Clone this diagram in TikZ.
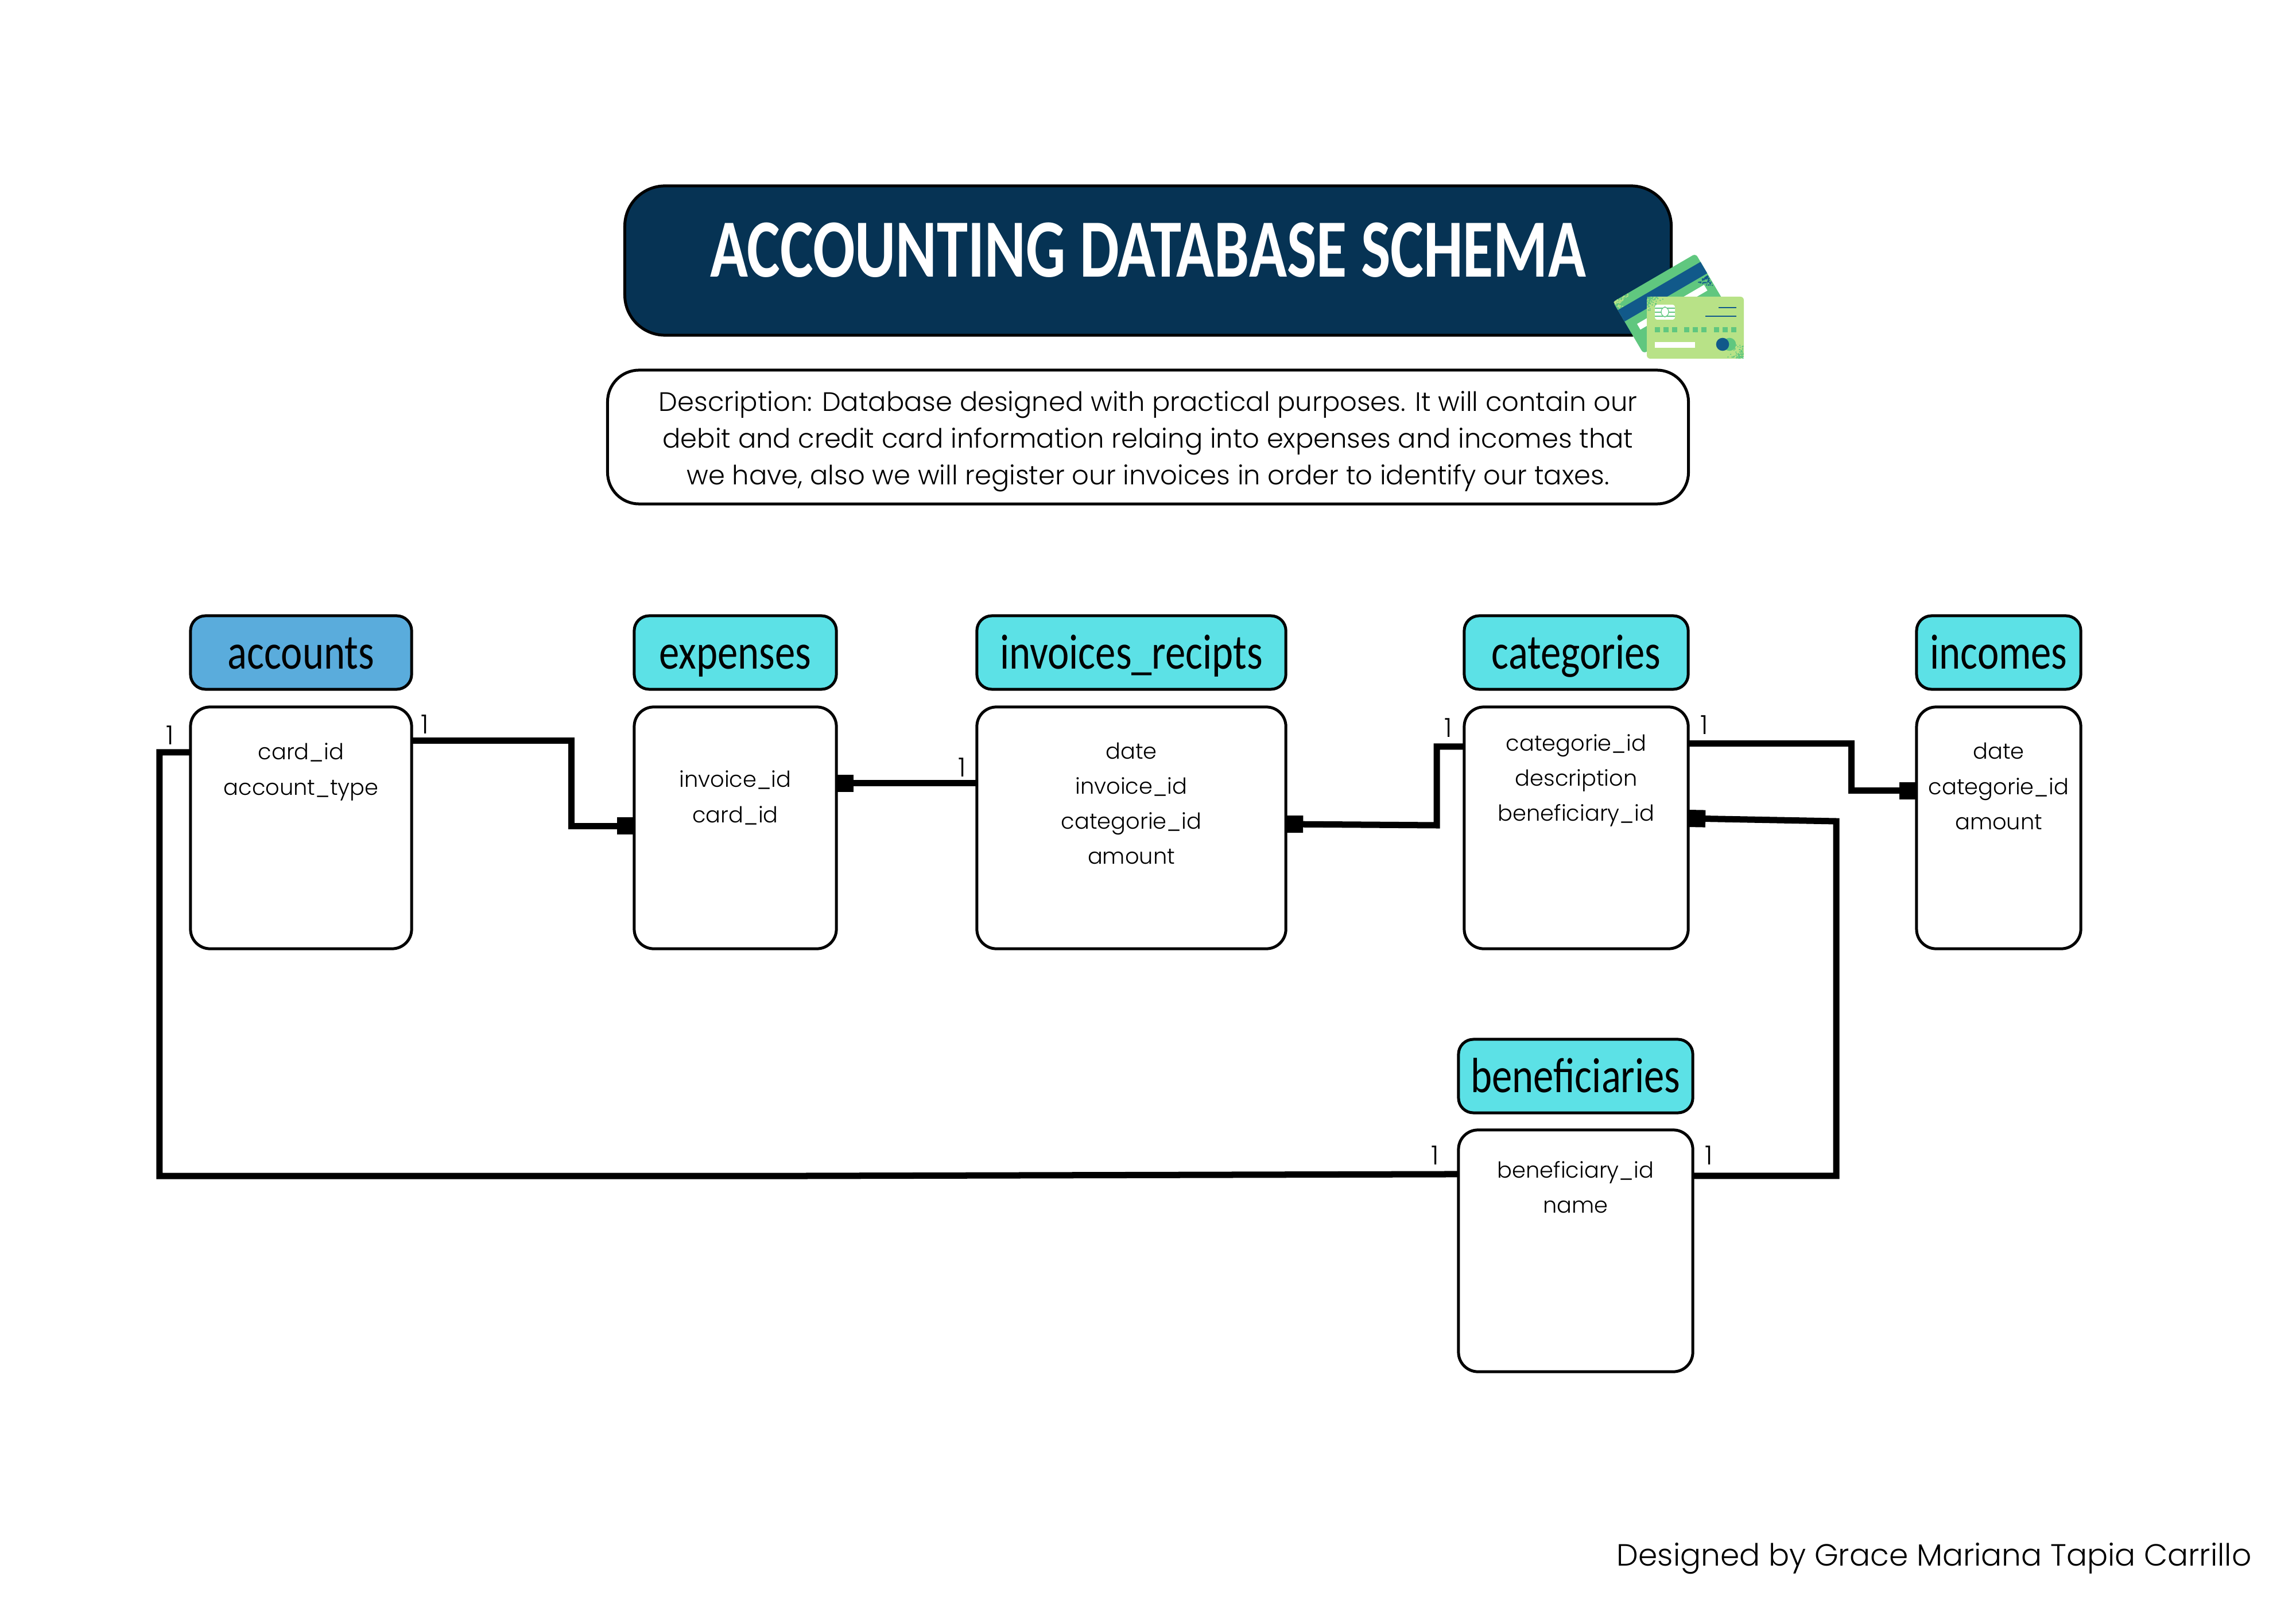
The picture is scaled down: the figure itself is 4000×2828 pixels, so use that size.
\documentclass[tikz,border=0pt]{standalone}
\usepackage{fontspec}
\usetikzlibrary{arrows.meta}
\setmainfont{Poppins Light}
\newfontfamily\headfont[FakeStretch=0.82]{Carlito}
\newfontfamily\titlefont[FakeStretch=0.755]{Carlito Bold}
\definecolor{titlenavy}{HTML}{063354}
\definecolor{headcyan}{HTML}{5CE1E6}
\definecolor{headblue}{HTML}{5AACDC}
\definecolor{cardgreen}{HTML}{60C77F}
\definecolor{cardlime}{HTML}{B8E287}
\definecolor{cardblue}{HTML}{11598A}
\newcommand{\speckle}[5]{%
  \foreach \i in {1,...,70}{%
    \pgfmathsetmacro\sx{#1+#3*rnd*rnd}%
    \pgfmathsetmacro\sy{#2+#4*rnd*rnd}%
    \fill[#5] (\sx,\sy) circle (.012cm);}}
\tikzset{
  tablebox/.style={draw,line width=.5mm,fill=white,rounded corners=3.4mm,outer sep=0pt,inner sep=0pt},
  tablehead/.style={tablebox,fill=headcyan,rounded corners=2.6mm,text height=21pt,text depth=5pt,font=\headfont\fontsize{24.5}{25}\selectfont},
  fields/.style={align=center,inner sep=0pt,font=\fontsize{10.9}{17.4}\selectfont},
  cardinal/.style={inner sep=0pt,font=\fontsize{13}{13}\selectfont},
  relation/.style={line width=1.1mm,line join=miter},
  fkend/.style={relation,-{Square[length=3mm,width=3mm]}},
  fkstart/.style={relation,{Square[length=3mm,width=3mm]}-},
}
\begin{document}
\begin{tikzpicture}[x=.01cm,y=-.01cm]
  \useasboundingbox (0,0) rectangle (4000,2828);
  \pgfmathsetseed{7}
  % title and description
  \node[draw,line width=.5mm,fill=titlenavy,rounded corners=7mm,outer sep=0pt,minimum width=18.22cm,minimum height=2.6cm] (title) at (2000,454) {};
  \node[text=white,inner sep=0pt,font=\titlefont\fontsize{41}{41}\selectfont] (titletext) at (2000,436) {ACCOUNTING DATABASE SCHEMA};
  \node[draw,line width=.5mm,rounded corners=5.5mm,outer sep=0pt,minimum width=18.82cm,minimum height=2.33cm] (description) at (2000,761.5) {};
  \node[align=center,inner sep=0pt,font=\fontsize{13.2}{18.2}\selectfont] (descriptiontext) at (2000,769) {Description: Database designed with practical purposes. It will contain our\\debit and credit card information relaing into expenses and incomes that\\we have, also we will register our invoices in order to identify our taxes.};
  % back card
  \begin{scope}[shift={(2810,526)},x={(1.44cm,.84cm)},y={(.53cm,-.90cm)}]
    \fill[cardgreen,rounded corners=.6mm] (0,0) -- (1,0) -- (1,1) -- (0,1) -- cycle;
    \fill[cardblue] (0,.16) -- (1,.16) -- (1,.38) -- (0,.38) -- cycle;
    \fill[white] (.1,.52) -- (.91,.52) -- (.91,.63) -- (.1,.63) -- cycle;
    \speckle{.01}{.01}{.2}{.15}{cardlime}
    \speckle{.99}{.42}{-.15}{.2}{cardblue}
  \end{scope}
  % front card
  \fill[cardlime,rounded corners=.6mm] (2869,517) rectangle (3038,625);
  \speckle{2870}{518}{28}{27}{cardgreen}
  \speckle{3037}{624}{-28}{-28}{cardgreen}
  \fill[white,rounded corners=.4mm] (2883,531) rectangle (2918,557);
  \foreach \chipy in {537,544,551}
    \draw[cardgreen,line width=.12mm] (2883,\chipy) -- (2918,\chipy);
  \filldraw[fill=white,draw=cardgreen,line width=.12mm,rounded corners=.8mm] (2894,535) rectangle (2907,552);
  \draw[cardblue,line width=.12mm] (2994,536) -- (3025,536);
  \draw[cardblue,line width=.12mm] (2971,551) -- (3025,551);
  \foreach \dotx in {2883,2898,2913,2934,2949,2964,2986,3001,3016}
    \fill[cardgreen] (\dotx,570) rectangle ++(9,9);
  \fill[white] (2883,596) rectangle (2953,606);
  \fill[cardgreen] (3013,600) circle (.113cm);
  \fill[cardblue] (3001,600) circle (.113cm);
  % tables
  \node[tablehead,fill=headblue,minimum width=3.85cm,minimum height=1.28cm] (accountshead) at (524.5,1137) {accounts};
  \node[tablebox,minimum width=3.85cm,minimum height=4.21cm] (accounts) at (524.5,1442.5) {};
  \node[fields] (accountsfields) at (524.5,1345) {card\_id\\account\_type};
  \node[tablehead,minimum width=3.52cm,minimum height=1.28cm] (expenseshead) at (1281,1137) {expenses};
  \node[tablebox,minimum width=3.52cm,minimum height=4.21cm] (expenses) at (1281,1442.5) {};
  \node[fields] (expensesfields) at (1281,1390) {invoice\_id\\card\_id};
  \node[tablehead,minimum width=5.38cm,minimum height=1.28cm] (invoiceshead) at (1971,1137) {invoices\_recipts};
  \node[tablebox,minimum width=5.38cm,minimum height=4.21cm] (invoices) at (1971,1442.5) {};
  \node[fields] (invoicesfields) at (1971,1400) {date\\invoice\_id\\categorie\_id\\amount};
  \node[tablehead,minimum width=3.9cm,minimum height=1.28cm] (categorieshead) at (2746,1137) {categories};
  \node[tablebox,minimum width=3.9cm,minimum height=4.21cm] (categories) at (2746,1442.5) {};
  \node[fields] (categoriesfields) at (2746,1360) {categorie\_id\\description\\beneficiary\_id};
  \node[tablehead,minimum width=2.86cm,minimum height=1.28cm] (incomeshead) at (3482,1137) {incomes};
  \node[tablebox,minimum width=2.86cm,minimum height=4.21cm] (incomes) at (3482,1442.5) {};
  \node[fields] (incomesfields) at (3482,1370) {date\\categorie\_id\\amount};
  \node[tablehead,minimum width=4.08cm,minimum height=1.28cm] (beneficiarieshead) at (2745,1875) {beneficiaries};
  \node[tablebox,minimum width=4.08cm,minimum height=4.21cm] (beneficiaries) at (2745,2179.5) {};
  \node[fields] (beneficiariesfields) at (2745,2069) {beneficiary\_id\\name};
  % relations
  \draw[fkend] ([yshift=1.515cm]accounts.east) -- ++(278,0) |- ([yshift=.035cm]expenses.west);
  \draw[fkstart] ([yshift=.775cm]expenses.east) -- ([yshift=.775cm]invoices.west);
  \draw[fkstart] ([yshift=.065cm]invoices.east) -- (2503,1438) |- ([yshift=1.415cm]categories.west);
  \draw[fkend] ([yshift=1.465cm]categories.east) -- ++(284,0) |- ([yshift=.645cm]incomes.west);
  \draw[fkstart] ([yshift=.165cm]categories.east) -- (3199,1431) |- ([yshift=1.305cm]beneficiaries.east);
  \draw[relation] ([yshift=1.315cm]accounts.west) -- ++(-54,0) |- (1400,2049) -- ([yshift=1.335cm]beneficiaries.west);
  % cardinalities
  \node[cardinal] (onea) at (296,1281) {1};
  \node[cardinal] (oneb) at (740,1262) {1};
  \node[cardinal] (onec) at (1676,1337) {1};
  \node[cardinal] (oned) at (2523,1268) {1};
  \node[cardinal] (onee) at (2969,1263) {1};
  \node[cardinal] (onef) at (2500,2013) {1};
  \node[cardinal] (oneg) at (2977,2013) {1};
  \node[inner sep=0pt,anchor=east,font=\fontsize{15.2}{15.5}\selectfont] (credit) at (3923,2716) {Designed by Grace Mariana Tapia Carrillo};
\end{tikzpicture}
\end{document}
